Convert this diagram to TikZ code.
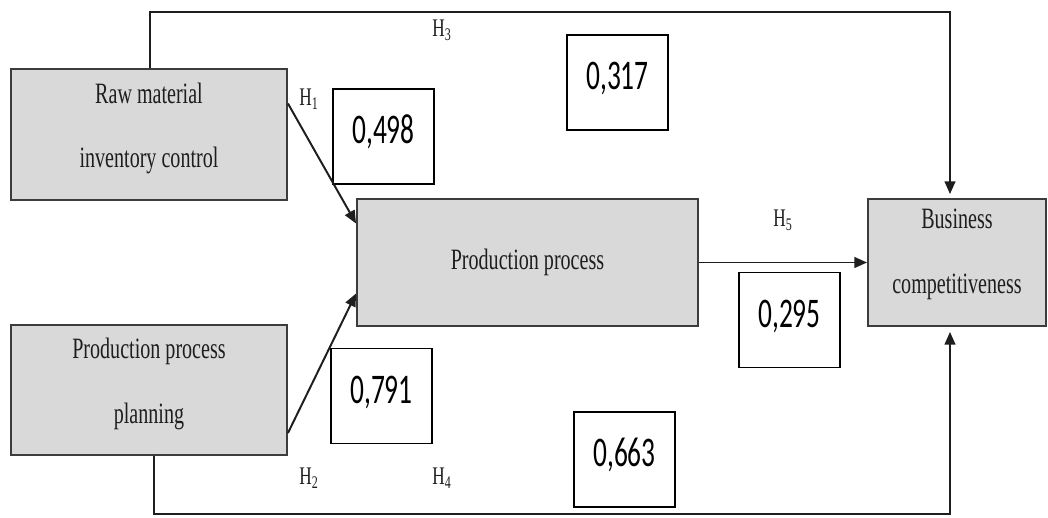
\documentclass[tikz,border=0pt]{standalone}
\usepackage{fontspec}
\setmainfont[FakeStretch=0.68]{Liberation Serif}
\newfontfamily\numfont[FakeStretch=0.65]{Carlito}
\usepackage{tikz}
\usetikzlibrary{arrows.meta,positioning}
\definecolor{boxgray}{RGB}{217,217,217}
\definecolor{edgegray}{RGB}{60,60,60}
\definecolor{inkgray}{RGB}{30,30,30}

\begin{document}
\begin{tikzpicture}[x=0.025cm,y=0.025cm,
    varbox/.style={draw=edgegray, line width=1.3pt, fill=boxgray, inner sep=0pt, align=center, text=inkgray, font=\fontsize{21}{46}\selectfont},
    valbox/.style={draw=black, line width=1.1pt, fill=white, inner sep=0pt, minimum width=2.525cm, minimum height=2.375cm, text height=19pt, text depth=9pt, font=\numfont\fontsize{30}{30}\selectfont},
    hlabel/.style={text=inkgray, inner sep=0pt, font=\fontsize{18}{18}\selectfont},
    link/.style={-{Triangle[length=0.32cm,width=0.27cm]}, draw=inkgray, line width=1.4pt}]
    \useasboundingbox (0,0) rectangle (1048,-518);

    \node[varbox, minimum width=6.9cm, minimum height=3.275cm, text depth=13pt] (raw) at (149,-134.5) {Raw material\\inventory control};
    \node[varbox, minimum width=6.9cm, minimum height=3.25cm, text depth=13pt] (plan) at (149,-390) {Production process\\planning};
    \node[varbox, minimum width=8.525cm, minimum height=3.175cm] (prod) at (527.5,-262.5) {Production process};
    \node[varbox, minimum width=4.45cm, minimum height=3.175cm, text depth=16pt] (biz) at (957,-262.5) {Business\\competitiveness};

    \node[valbox] (v498) at (383.5,-136.5) {0,498};
    \node[valbox] (v317) at (617.5,-82.5) {0,317};
    \node[valbox] (v791) at (381.5,-396) {0,791};
    \node[valbox] (v295) at (789.5,-320) {0,295};
    \node[valbox] (v663) at (624.5,-459.5) {0,663};

    \coordinate (h3a) at (150,-12);
    \coordinate (h3b) at (950,-12);
    \coordinate (h4a) at (154,-514);
    \coordinate (h4b) at (950,-514);

    \draw[link] ([shift={(0,31)}]raw.east) -- ([shift={(0,39)}]prod.west);
    \draw[link] ([shift={(0,-43)}]plan.east) -- ([shift={(0,-31)}]prod.west);
    \draw[link] (raw.north -| h3a) -- (h3a) -- (h3b) -- ([shift={(0,4)}]biz.north -| h3b);
    \draw[link] (plan.south -| h4a) -- (h4a) -- (h4b) -- ([shift={(0,-5)}]biz.south -| h4b);
    \draw[link] (prod.east) -- (biz.west);

    \node[hlabel] (h1) at (309,-99) {H\textsubscript{1}};
    \node[hlabel] (h2) at (309,-478) {H\textsubscript{2}};
    \node[hlabel] (h3) at (442,-30) {H\textsubscript{3}};
    \node[hlabel] (h4) at (442,-478) {H\textsubscript{4}};
    \node[hlabel] (h5) at (783,-220) {H\textsubscript{5}};
\end{tikzpicture}
\end{document}
